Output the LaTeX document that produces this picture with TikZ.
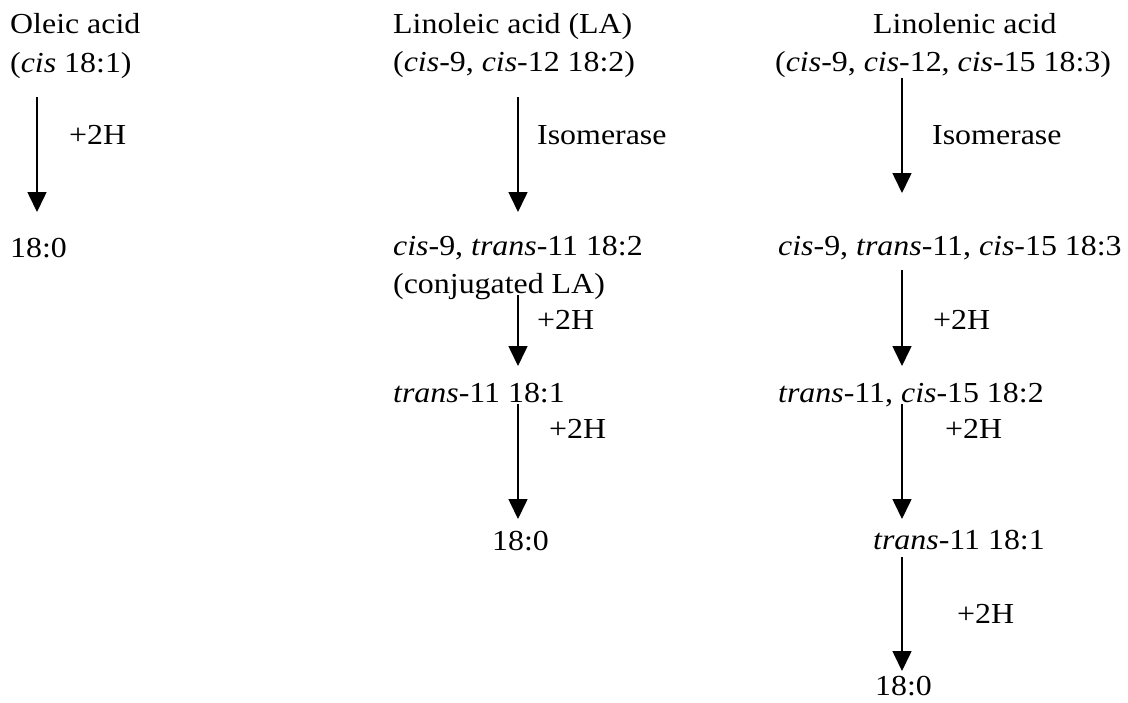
\documentclass[tikz,border=0pt]{standalone}
\usepackage{fontspec}
\setmainfont{Liberation Serif}[FakeStretch=1.1]
\usetikzlibrary{arrows.meta}
\begin{document}
\begin{tikzpicture}[x=1pt,y=-1pt,
  lbl/.style={anchor=base west,inner sep=0pt,font=\fontsize{29}{35}\selectfont},
  arr/.style={line width=1.6pt,-{Triangle[width=19pt,length=20pt]}}]
\useasboundingbox (0,0) rectangle (1128,702);

% Oleic acid pathway
\node[lbl] (o1) at (10,33) {Oleic acid};
\node[lbl] (o2) at (10,72) {(\textit{cis} 18:1)};
\node[lbl] (o3) at (10,257) {18:0};
\coordinate (oa1s) at (37,97);
\coordinate (oa1e) at (37,212);
\draw[arr] (oa1s) -- (oa1e);
\node[lbl] (oh1) at (69,144) {+2H};

% Linoleic acid pathway
\node[lbl] (l1) at (393,33) {Linoleic acid (LA)};
\node[lbl] (l2) at (393,71) {(\textit{cis}-9, \textit{cis}-12 18:2)};
\node[lbl] (l3) at (393,255) {\textit{cis}-9, \textit{trans}-11 18:2};
\node[lbl] (l4) at (393,293) {(conjugated LA)};
\node[lbl] (l5) at (393,402) {\textit{trans}-11 18:1};
\node[lbl] (l6) at (492,550) {18:0};
\coordinate (la1s) at (518,97);
\coordinate (la1e) at (518,212);
\coordinate (la2s) at (518,295);
\coordinate (la2e) at (518,366);
\coordinate (la3s) at (518,404);
\coordinate (la3e) at (518,519);
\draw[arr] (la1s) -- (la1e);
\draw[arr] (la2s) -- (la2e);
\draw[arr] (la3s) -- (la3e);
\node[lbl] (li1) at (537,144) {Isomerase};
\node[lbl] (lh1) at (537,329) {+2H};
\node[lbl] (lh2) at (549,438) {+2H};

% Linolenic acid pathway
\node[lbl] (n1) at (873,33) {Linolenic acid};
\node[lbl] (n2) at (775,71) {(\textit{cis}-9, \textit{cis}-12, \textit{cis}-15 18:3)};
\node[lbl] (n3) at (778,255) {\textit{cis}-9, \textit{trans}-11, \textit{cis}-15 18:3};
\node[lbl] (n4) at (778,402) {\textit{trans}-11, \textit{cis}-15 18:2};
\node[lbl] (n5) at (873,549) {\textit{trans}-11 18:1};
\node[lbl] (n6) at (875,695) {18:0};
\coordinate (na1s) at (902,78);
\coordinate (na1e) at (902,193);
\coordinate (na2s) at (902,270);
\coordinate (na2e) at (902,366);
\coordinate (na3s) at (902,404);
\coordinate (na3e) at (902,519);
\coordinate (na4s) at (902,557);
\coordinate (na4e) at (902,671);
\draw[arr] (na1s) -- (na1e);
\draw[arr] (na2s) -- (na2e);
\draw[arr] (na3s) -- (na3e);
\draw[arr] (na4s) -- (na4e);
\node[lbl] (ni1) at (932,144) {Isomerase};
\node[lbl] (nh1) at (933,329) {+2H};
\node[lbl] (nh2) at (945,438) {+2H};
\node[lbl] (nh3) at (957,623) {+2H};
\end{tikzpicture}
\end{document}
